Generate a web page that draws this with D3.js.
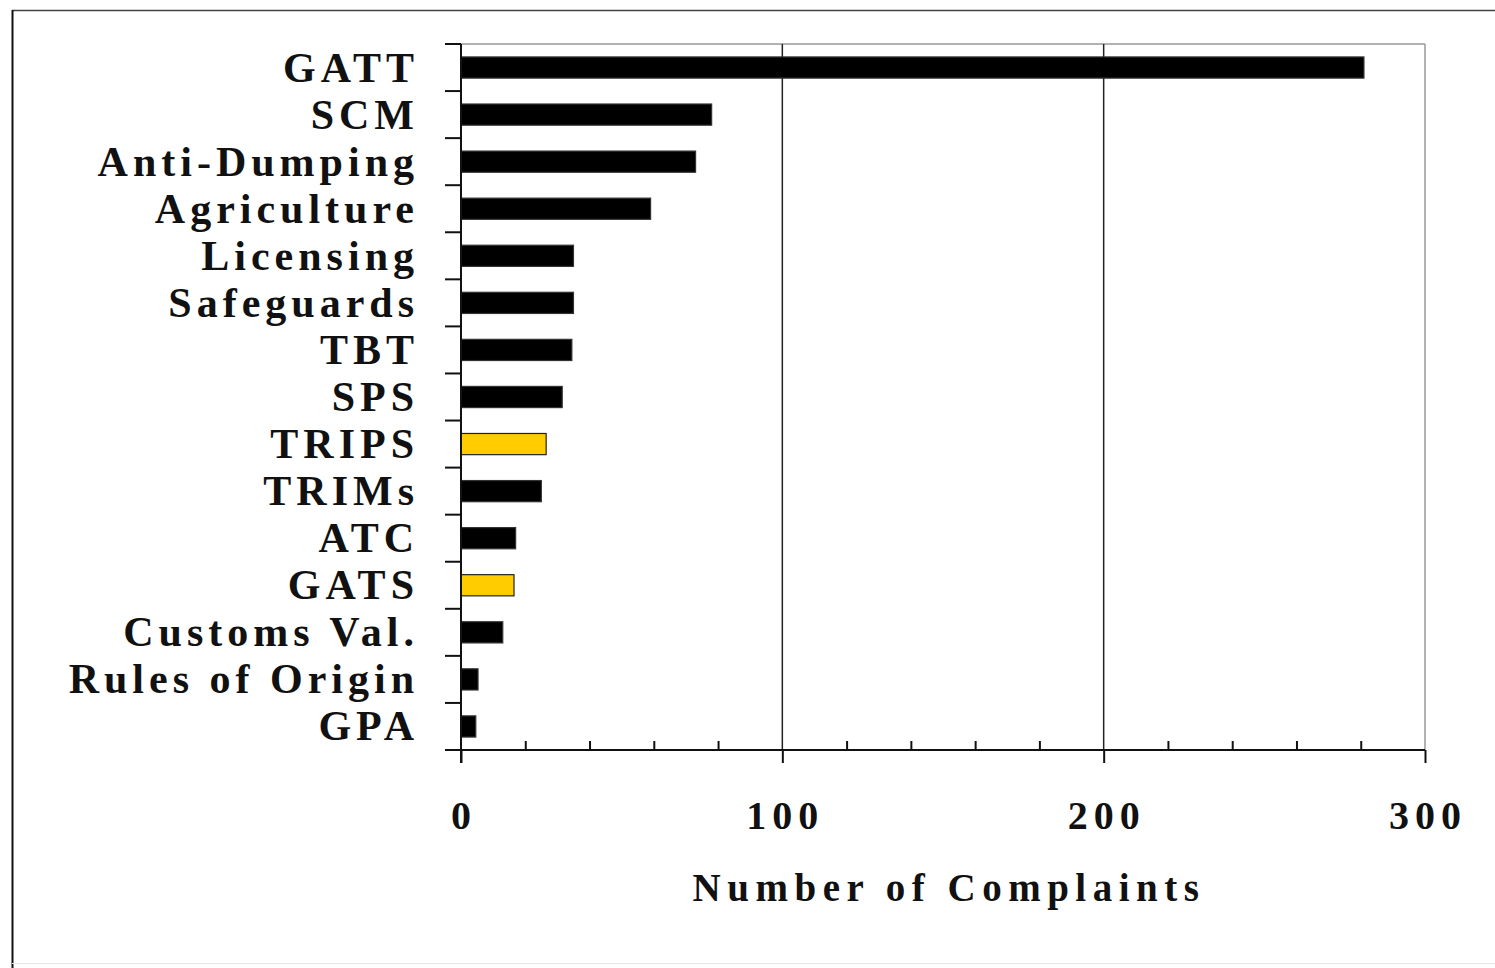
<!DOCTYPE html>
<html><head><meta charset="utf-8">
<script src="https://cdn.jsdelivr.net/npm/d3@7"></script>
<style>html,body{margin:0;padding:0;background:#fff;}
text{font-family:"Liberation Serif","Times New Roman",serif;font-weight:bold;}</style>
</head><body>
<svg id="chart" width="1495" height="968"></svg>
<script>
const categories = ["GATT","SCM","Anti-Dumping","Agriculture","Licensing","Safeguards","TBT","SPS","TRIPS","TRIMs","ATC","GATS","Customs Val.","Rules of Origin","GPA"];
const complaints = [281,78,73,59,35,35,34.5,31.5,26.5,25,17,16.5,13,5.3,4.6];
const highlighted = ["TRIPS","GATS"];
const xTicks = [0,100,200,300];
const xMinorTicks = [20,40,60,80,120,140,160,180,220,240,260,280];
const xTitle = "Number of Complaints";

(function(){
const svg = d3.select("#chart");
const pL = 461, pR = 1425, pT = 44, pB = 750;

svg.append("line").attr("x1",12).attr("x2",1495).attr("y1",10.5).attr("y2",10.5).attr("stroke","#444").attr("stroke-width",1.5);
svg.append("line").attr("x1",12.5).attr("x2",12.5).attr("y1",10).attr("y2",968).attr("stroke","#111").attr("stroke-width",2);
svg.append("line").attr("x1",12).attr("x2",1495).attr("y1",963.5).attr("y2",963.5).attr("stroke","#e6e6e6").attr("stroke-width",1);

const x = d3.scaleLinear().domain([0,300]).range([pL,pR]);
const y = d3.scaleBand().domain(categories).range([pT,pB]).paddingInner(0.55).paddingOuter(0.275);
const yb = d3.scaleBand().domain(categories).range([pT,pB]);

svg.append("line").attr("x1",pL).attr("x2",pR).attr("y1",pT).attr("y2",pT).attr("stroke","#999").attr("stroke-width",1.5);
svg.append("line").attr("x1",pR).attr("x2",pR).attr("y1",pT).attr("y2",pB).attr("stroke","#999").attr("stroke-width",1.5);

svg.selectAll(".grid").data([100,200]).enter().append("line")
  .attr("x1",d=>x(d)).attr("x2",d=>x(d)).attr("y1",pT).attr("y2",pB)
  .attr("stroke","#222").attr("stroke-width",1.5);

svg.selectAll(".bar").data(categories).enter().append("rect")
  .attr("x",x(0)).attr("y",d=>y(d))
  .attr("width",(d,i)=>x(complaints[i])-x(0)).attr("height",y.bandwidth())
  .attr("fill",d=>highlighted.includes(d)?"#FFCC00":"#000")
  .attr("stroke",d=>highlighted.includes(d)?"#222":"#333").attr("stroke-width",1.2);

const xAxisMajor = d3.axisBottom(x).tickValues(xTicks).tickSize(13).tickFormat("");
const gx = svg.append("g").attr("transform",`translate(0,${pB})`).call(xAxisMajor);
gx.select(".domain").remove();
gx.selectAll(".tick line").attr("stroke","#111").attr("stroke-width",2);
const xAxisMinor = d3.axisTop(x).tickValues(xMinorTicks).tickSize(9).tickFormat("");
const gm = svg.append("g").attr("transform",`translate(0,${pB})`).call(xAxisMinor);
gm.select(".domain").remove();
gm.selectAll(".tick line").attr("stroke","#111").attr("stroke-width",2);
svg.append("line").attr("x1",445).attr("x2",pR).attr("y1",pB).attr("y2",pB).attr("stroke","#111").attr("stroke-width",2);

svg.selectAll(".xl").data(xTicks).enter().append("text")
  .attr("x",d=>x(d)+3).attr("y",829)
  .attr("text-anchor","middle")
  .attr("font-size",40).attr("letter-spacing","6px").attr("fill","#111").text(d=>d);

svg.append("line").attr("x1",pL).attr("x2",pL).attr("y1",pT).attr("y2",763).attr("stroke","#111").attr("stroke-width",2);
const boundaries = categories.map(c=>yb(c));
svg.selectAll(".yt").data(boundaries).enter().append("line")
  .attr("x1",445).attr("x2",pL).attr("y1",d=>d).attr("y2",d=>d)
  .attr("stroke","#111").attr("stroke-width",2);

svg.selectAll(".yl").data(categories).enter().append("text")
  .attr("x",419).attr("y",d=>yb(d)+yb.bandwidth()/2+14)
  .attr("text-anchor","end")
  .attr("font-size",42).attr("letter-spacing","5px").attr("fill","#111").text(d=>d);

svg.append("text").attr("x",949).attr("y",901).attr("text-anchor","middle")
  .attr("font-size",39)
  .attr("letter-spacing","6.5px").attr("fill","#111").text(xTitle);
})();
</script>
</body></html>
